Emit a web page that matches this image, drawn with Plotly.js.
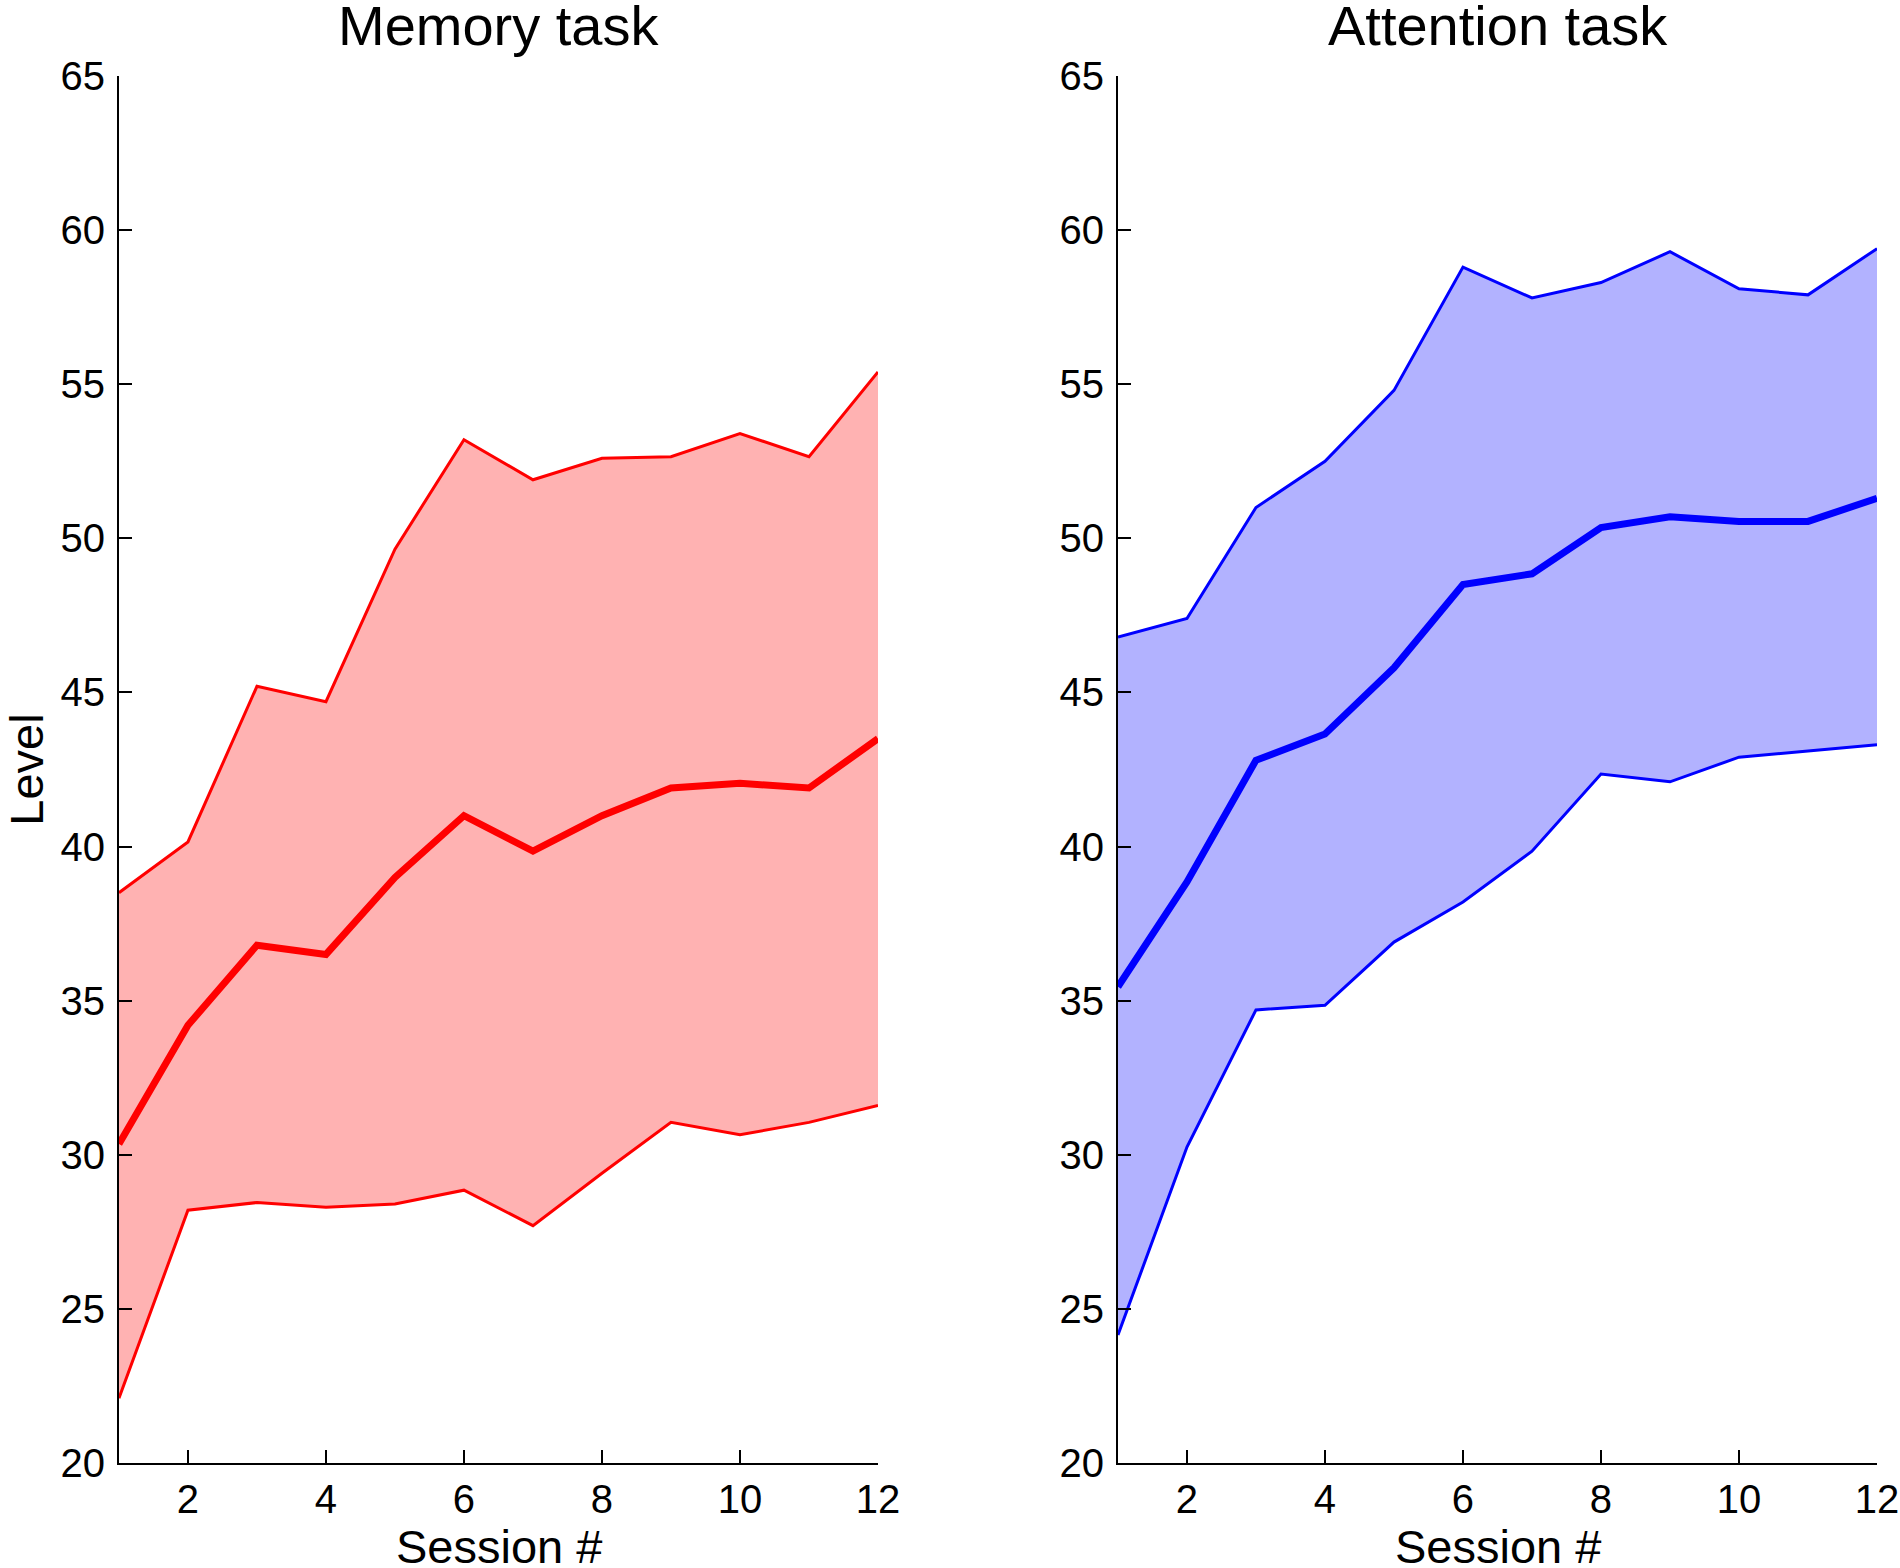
<!DOCTYPE html>
<html>
<head>
<meta charset="utf-8">
<script src="https://cdn.plot.ly/plotly-3.0.1.min.js"></script>
<style>
  html, body { margin: 0; padding: 0; background: #fff; }
  #myDiv { width: 1900px; height: 1568px; }
</style>
</head>
<body>
<div id="myDiv"></div>
<script>
// session numbers
var sessions = [1, 2, 3, 4, 5, 6, 7, 8, 9, 10, 11, 12];

// memory task (red)
var memUpper = [38.5, 40.15, 45.2, 44.7, 49.65, 53.2, 51.9, 52.6, 52.65, 53.4, 52.65, 55.4];
var memMean  = [30.35, 34.2, 36.8, 36.5, 39.0, 41.0, 39.85, 41.0, 41.9, 42.05, 41.9, 43.5];
var memLower = [22.1, 28.2, 28.45, 28.3, 28.4, 28.85, 27.7, 29.4, 31.05, 30.65, 31.05, 31.6];

// attention task (blue)
var attUpper = [46.8, 47.4, 51.0, 52.5, 54.8, 58.8, 57.8, 58.3, 59.3, 58.1, 57.9, 59.4];
var attMean  = [35.45, 38.85, 42.8, 43.65, 45.8, 48.5, 48.85, 50.35, 50.7, 50.55, 50.55, 51.3];
var attLower = [24.15, 30.25, 34.7, 34.85, 36.9, 38.2, 39.85, 42.35, 42.1, 42.9, 43.1, 43.3];

var xTicks = [2, 4, 6, 8, 10, 12];
var yTicks = [20, 25, 30, 35, 40, 45, 50, 55, 60, 65];

var fnt = 'Liberation Sans, Arial, sans-serif';

function band(xa, ya, lower, upper, mean, line, fill) {
  return [
    { x: sessions, y: lower, xaxis: xa, yaxis: ya, mode: 'lines',
      line: { color: line, width: 3 }, hoverinfo: 'skip' },
    { x: sessions, y: upper, xaxis: xa, yaxis: ya, mode: 'lines',
      fill: 'tonexty', fillcolor: fill,
      line: { color: line, width: 3 }, hoverinfo: 'skip' },
    { x: sessions, y: mean, xaxis: xa, yaxis: ya, mode: 'lines',
      line: { color: line, width: 7 } }
  ];
}

var data = band('x', 'y', memLower, memUpper, memMean, '#ff0000', 'rgb(255,178,178)')
  .concat(band('x2', 'y2', attLower, attUpper, attMean, '#0000ff', 'rgb(178,178,255)'));

function xax(dom) {
  return {
    domain: dom, range: [1, 12], tickvals: xTicks, ticks: 'inside', ticklen: 13,
    tickwidth: 2, tickcolor: '#000', showline: true, linecolor: '#000', linewidth: 2,
    showgrid: false, zeroline: false, ticklabelstandoff: 0,
    tickfont: { family: fnt, size: 40, color: '#000' }
  };
}
function yax(anchor, title) {
  var a = {
    domain: [0.067, 0.9515], range: [20, 65], tickvals: yTicks, ticks: 'inside', ticklen: 13,
    tickwidth: 2, tickcolor: '#000', showline: true, linecolor: '#000', linewidth: 2,
    showgrid: false, zeroline: false, anchor: anchor, ticklabelstandoff: 4,
    tickfont: { family: fnt, size: 40, color: '#000' }
  };
  if (title) a.title = { text: title, font: { family: fnt, size: 47, color: '#000' }, standoff: 22 };
  return a;
}

function label(text, x, y, size) {
  return { text: text, xref: 'paper', yref: 'paper', x: x, y: y,
    xanchor: 'center', yanchor: 'middle', showarrow: false,
    font: { family: fnt, size: size, color: '#000' } };
}

var layout = {
  width: 1900, height: 1568,
  margin: { l: 0, r: 0, t: 0, b: 0 },
  paper_bgcolor: '#fff', plot_bgcolor: 'rgba(0,0,0,0)',
  showlegend: false,
  xaxis: xax([0.0626, 0.4621]),
  yaxis: yax('x', 'Level'),
  xaxis2: Object.assign(xax([0.5884, 0.9879]), { anchor: 'y2' }),
  yaxis2: yax('x2', null),
  annotations: [
    label('Memory task', 0.2624, 0.9835, 56),
    label('Attention task', 0.7882, 0.9835, 56),
    label('Session #', 0.2624, 0.0135, 47),
    label('Session #', 0.7882, 0.0135, 47)
  ]
};

Plotly.newPlot('myDiv', data, layout, { displayModeBar: false, staticPlot: true });
</script>
</body>
</html>
